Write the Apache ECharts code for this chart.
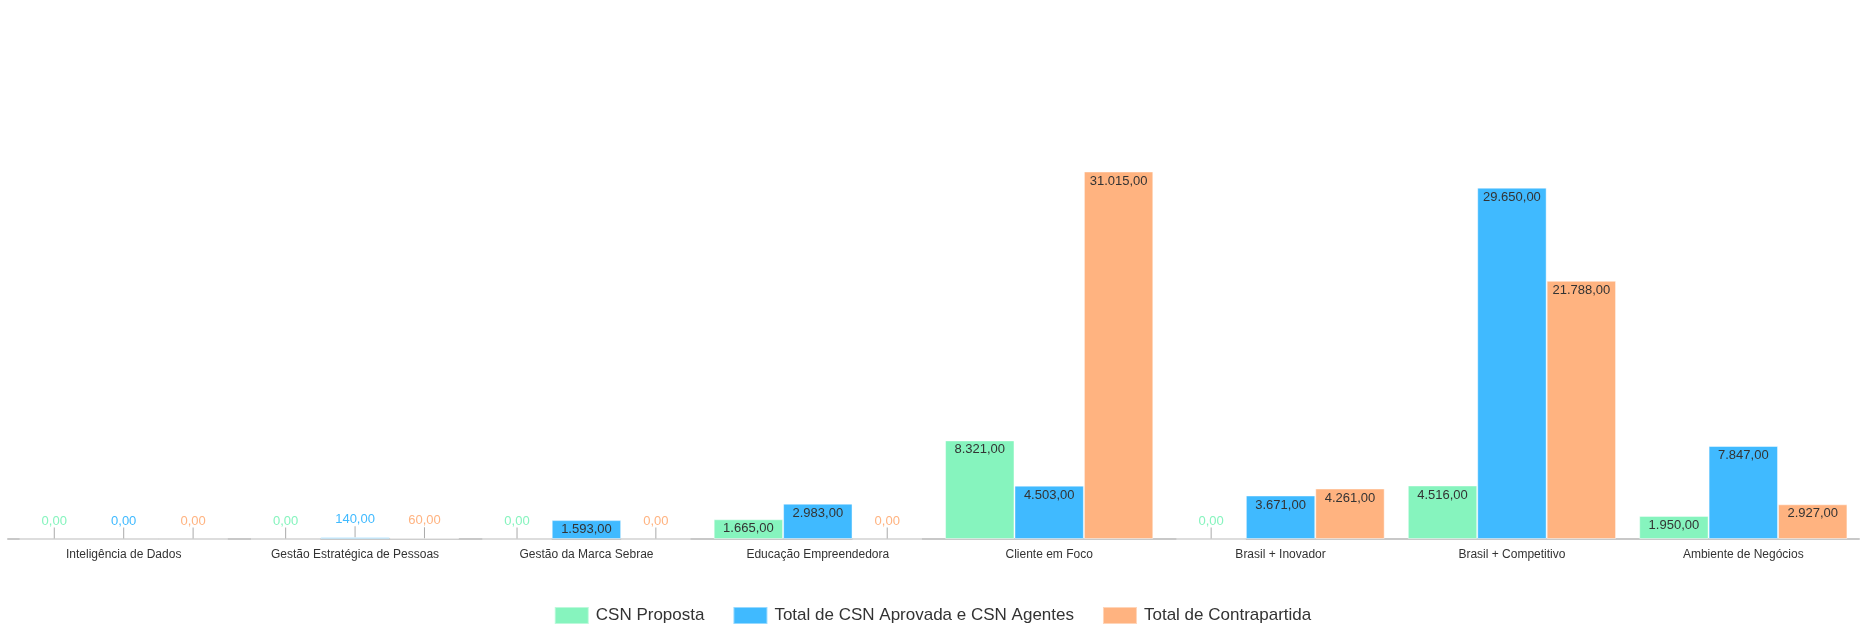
<!DOCTYPE html>
<html>
<head>
<meta charset="utf-8">
<script src="https://cdn.jsdelivr.net/npm/echarts@6/dist/echarts.min.js"></script>
<style>
html,body{margin:0;padding:0;background:#fff;}
#chart{width:1865px;height:635px;}
</style>
</head>
<body>
<div id="chart"></div>
<script>
var categories = ['Inteligência de Dados', 'Gestão Estratégica de Pessoas', 'Gestão da Marca Sebrae', 'Educação Empreendedora', 'Cliente em Foco', 'Brasil + Inovador', 'Brasil + Competitivo', 'Ambiente de Negócios'];
var seriesNames = ['CSN Proposta', 'Total de CSN Aprovada e CSN Agentes', 'Total de Contrapartida'];
var csnProposta = [0, 0, 0, 1665, 8321, 0, 4516, 1950];
var csnAprovada = [0, 140, 1593, 2983, 4503, 3671, 29650, 7847];
var contrapartida = [0, 60, 0, 0, 31015, 4261, 21788, 2927];
var colors = ['#86f4be', '#40baff', '#ffb380'];

function fmt(v) {
  var parts = v.toFixed(2).split('.');
  var intPart = parts[0].replace(/\B(?=(\d{3})+(?!\d))/g, '.');
  return intPart + ',' + parts[1];
}

function buildData(values, color) {
  return values.map(function (v) {
    if (v < 1000) {
      return {
        value: v,
        label: {
          show: true,
          position: 'top',
          distance: 0,
          formatter: function (p) { return '{v|' + fmt(p.value) + '}\n{t|}'; },
          rich: {
            v: { color: color, fontSize: 13, fontFamily: 'Liberation Sans', lineHeight: 13, padding: [0, 0, 0, 0] },
            t: { width: 1, height: 11, backgroundColor: '#aaa' }
          }
        }
      };
    }
    return { value: v };
  });
}

var allValues = [csnProposta, csnAprovada, contrapartida];
var series = allValues.map(function (vals, i) {
  return {
    name: seriesNames[i],
    type: 'bar',
    barGap: '0%',
    barCategoryGap: '10%',
    itemStyle: { color: colors[i], borderColor: 'rgba(255,255,255,0.45)', borderWidth: 1 },
    label: {
      show: true,
      position: 'insideTop',
      distance: 3,
      color: '#333',
      fontSize: 13,
      fontFamily: 'Liberation Sans',
      formatter: function (p) { return fmt(p.value); }
    },
    data: buildData(vals, colors[i])
  };
});

var chart = echarts.init(document.getElementById('chart'));
chart.setOption({
  animation: false,
  textStyle: { fontFamily: 'Liberation Sans' },
  grid: { left: 8, right: 6, top: 65, bottom: 96, containLabel: false },
  legend: {
    bottom: 5,
    left: 'center',
    itemWidth: 34,
    itemHeight: 17,
    itemGap: 28,
    icon: 'rect',
    textStyle: { fontSize: 17, color: '#333', fontFamily: 'Liberation Sans', padding: [0, 0, 0, 2] },
    data: seriesNames
  },
  xAxis: {
    type: 'category',
    data: categories,
    axisTick: { show: false },
    axisLine: { lineStyle: { color: '#c8c8c8', width: 2 } },
    axisLabel: { color: '#333', fontSize: 12, margin: 10, interval: 0 }
  },
  yAxis: {
    type: 'value',
    min: 0,
    max: 40000,
    show: false,
    splitLine: { show: false }
  },
  series: series
});
</script>
</body>
</html>
